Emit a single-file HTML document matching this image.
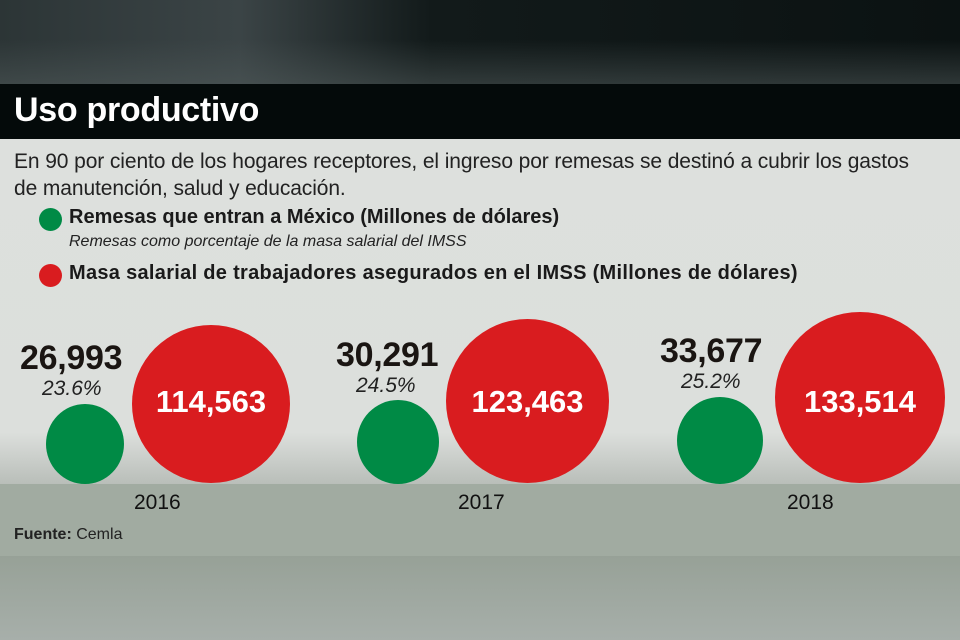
<!DOCTYPE html>
<html><head><meta charset="utf-8"><style>
*{margin:0;padding:0}
body{width:960px;height:640px;overflow:hidden;position:relative;font-family:"Liberation Sans",sans-serif;background:#a6aea9}
.a{position:absolute;white-space:nowrap}
.c{position:absolute;border-radius:50%}
.g{background:#008a45}.r{background:#d91c1f}
.n{font-weight:bold;font-size:34px;color:#1a1512;letter-spacing:-0.3px}
.p{font-style:italic;font-size:21px;color:#222}
.w{color:#fff;font-weight:bold;font-size:31px;text-align:center}
.y{font-size:21px;color:#111}
</style></head><body>
<div class="a" style="left:0;top:0;width:960px;height:84px;background:linear-gradient(90deg,#2c3536 0%,#3b4446 25%,#121a1a 45%,#0b1212 100%)"></div>
<div class="a" style="left:0;top:40px;width:960px;height:44px;background:linear-gradient(180deg,rgba(80,90,90,0),rgba(80,90,90,.5))"></div>
<div class="a" style="left:0;top:84px;width:960px;height:55px;background:#040a0a"></div>
<div class="a" style="left:14px;top:91px;font-size:34px;font-weight:bold;color:#fff;letter-spacing:-0.3px">Uso productivo</div>
<div class="a" style="left:0;top:139px;width:960px;height:345px;background:linear-gradient(180deg,#dde0dd 0%,#dcdfdc 85%,#b9beb9 100%)"></div>
<div class="a" style="left:0;top:484px;width:960px;height:72px;background:#a1aba1"></div>
<div class="a" style="left:0;top:556px;width:960px;height:84px;background:linear-gradient(180deg,#97a197,#a7afaa)"></div>
<div class="a" style="left:14px;top:148px;font-size:21px;color:#222;line-height:27px;letter-spacing:-0.1px">En 90 por ciento de los hogares receptores, el ingreso por remesas se destinó a cubrir los gastos<br>de manutención, salud y educación.</div>
<div class="c g" style="left:39px;top:208px;width:23px;height:23px"></div>
<div class="a" style="left:69px;top:206px;font-size:20px;font-weight:bold;color:#1a1a1a">Remesas que entran a México (Millones de dólares)</div>
<div class="a" style="left:69px;top:233px;font-size:16px;font-style:italic;color:#222">Remesas como porcentaje de la masa salarial del IMSS</div>
<div class="c r" style="left:39px;top:264px;width:23px;height:23px"></div>
<div class="a" style="left:69px;top:262px;font-size:20px;font-weight:bold;color:#1a1a1a;letter-spacing:0.3px">Masa salarial de trabajadores asegurados en el IMSS (Millones de dólares)</div>

<div class="c g" style="left:46px;top:404px;width:78px;height:80px"></div>
<div class="c r" style="left:132px;top:325px;width:158px;height:158px"></div>
<div class="a n" style="left:20px;top:339px">26,993</div>
<div class="a p" style="left:42px;top:377px">23.6%</div>
<div class="a w" style="left:132px;top:384px;width:158px">114,563</div>
<div class="a y" style="left:134px;top:491px">2016</div>

<div class="c g" style="left:357px;top:400px;width:82px;height:84px"></div>
<div class="c r" style="left:446px;top:319px;width:163px;height:164px"></div>
<div class="a n" style="left:336px;top:336px">30,291</div>
<div class="a p" style="left:356px;top:374px">24.5%</div>
<div class="a w" style="left:446px;top:384px;width:163px">123,463</div>
<div class="a y" style="left:458px;top:491px">2017</div>

<div class="c g" style="left:677px;top:397px;width:86px;height:87px"></div>
<div class="c r" style="left:775px;top:312px;width:170px;height:171px"></div>
<div class="a n" style="left:660px;top:332px">33,677</div>
<div class="a p" style="left:681px;top:370px">25.2%</div>
<div class="a w" style="left:775px;top:384px;width:170px">133,514</div>
<div class="a y" style="left:787px;top:491px">2018</div>

<div class="a" style="left:14px;top:526px;font-size:16px;color:#222"><b>Fuente:</b> Cemla</div>
</body></html>
